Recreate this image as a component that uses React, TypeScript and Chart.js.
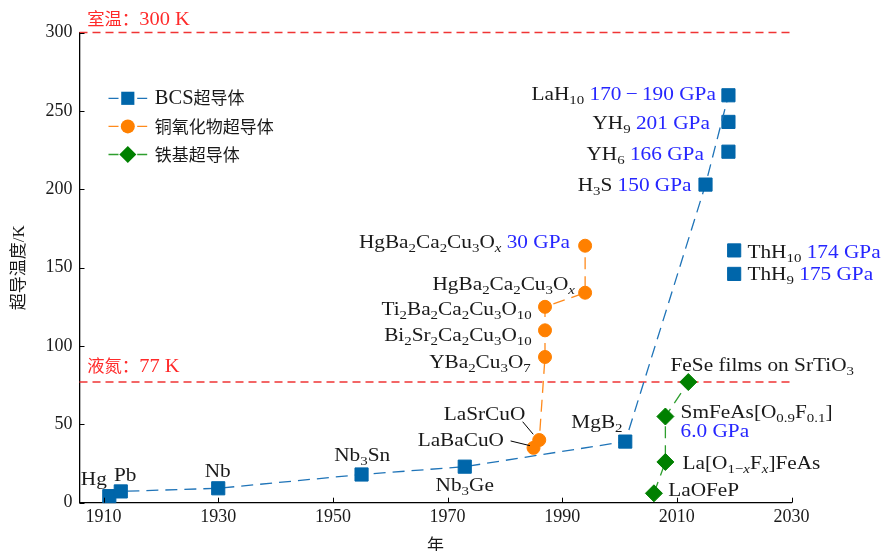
import React, { useEffect, useRef } from 'react';
import { Chart, registerables } from 'chart.js';

Chart.register(...registerables);

// ---------------- data ----------------
const xTicks = [1910, 1930, 1950, 1970, 1990, 2010, 2030];
const yTicks = [0, 50, 100, 150, 200, 250, 300];
const xMin = 1905.8;
const xMax = 2030;
const yMin = 0;
const yMax = 300;

const seriesLabels = ['BCS超导体', '铜氧化物超导体', '铁基超导体'];
const xTitle = '年';
const yTitle = '超导温度/K';

const bcsYears = [1911, 1913, 1930, 1955, 1973, 2001, 2015, 2019];
const bcsTc = [4.2, 7.2, 9.2, 18, 23, 39, 203, 260];
const bcsNames = ['Hg', 'Pb', 'Nb', 'Nb_{3}Sn', 'Nb_{3}Ge', 'MgB_{2}', 'H_{3}S', 'LaH_{10}'];
const bcsPressures = ['', '', '', '', '', '', '150 GPa', '170\u2009−\u2009190 GPa'];

const hydrideYears = [2019, 2019, 2020, 2020];
const hydrideTc = [243, 224, 161, 146];
const hydrideNames = ['YH_{9}', 'YH_{6}', 'ThH_{10}', 'ThH_{9}'];
const hydridePressures = ['201 GPa', '166 GPa', '174 GPa', '175 GPa'];

const cuprateYears = [1985, 1986, 1987, 1987, 1987, 1994, 1994];
const cuprateTc = [35, 40, 93, 110, 125, 134, 164];
const cuprateNames = [
  'LaBaCuO',
  'LaSrCuO',
  'YBa_{2}Cu_{3}O_{7}',
  'Bi_{2}Sr_{2}Ca_{2}Cu_{3}O_{10}',
  'Ti_{2}Ba_{2}Ca_{2}Cu_{3}O_{10}',
  'HgBa_{2}Ca_{2}Cu_{3}O_{x}',
  'HgBa_{2}Ca_{2}Cu_{3}O_{x}',
];
const cupratePressures = ['', '', '', '', '', '', '30 GPa'];

const ironYears = [2006, 2008, 2008, 2012];
const ironTc = [6, 26, 55, 77];
const ironNames = ['LaOFeP', 'La[O_{1−x}F_{x}]FeAs', 'SmFeAs[O_{0.9}F_{0.1}]', 'FeSe films on SrTiO_{3}'];
const ironPressures = ['', '', '6.0 GPa', ''];

const refLevels = [300, 77];
const refLabels = ['室温：300 K', '液氮：77 K'];

// ---------------- style / layout (pixels) ----------------
const FONT = '"Liberation Serif", "Noto Sans CJK SC", serif';
const CJK_FONT = '"Liberation Serif", "Noto Sans CJK SC", sans-serif';
const BLUE = '#0066aa';
const BLUE_LINE = '#1f74b8';
const ORANGE = '#ff8000';
const ORANGE_LINE = '#ff8a1c';
const GREEN = '#008000';
const GREEN_LINE = '#2e9e2e';
const RED = '#f03434';
const TEXT_BLUE = '#2626ff';
const TEXT_RED = '#ff2a2a';
const TEXT = '#1a1a1a';

type Place = [string, number, number];
const bcsPlace: Place[] = [
  ['center', -15.5, -17],
  ['center', 4.5, -17],
  ['center', -0.5, -17.6],
  ['center', 0.6, -19.5],
  ['center', 0, 18.3],
  ['right', -2.7, -20],
  ['right', -14, 0],
  ['right', -12.6, -1.3],
];
const hydridePlace: Place[] = [
  ['right', -18.6, 0.8],
  ['right', -24.6, 1.6],
  ['left', 13.3, 1.3],
  ['left', 13.3, 0],
];
const cupratePlace: Place[] = [
  ['right', -29.6, -8],
  ['right', -14, -26.7],
  ['right', -14.3, 4.7],
  ['right', -13.3, 4.7],
  ['right', -13.3, 1.5],
  ['right', -10.2, -9.4],
  ['right', -15.2, -4],
];
const cuprateLeaders: (number[] | null)[] = [
  [-22.9, -6.9, -3.6, -2.2],
  [-16.6, -18.3, -6, -5.7],
  null, null, null, null, null,
];
const ironPlace: Place[] = [
  ['left', 14.3, -3.3],
  ['left', 17.2, 0.3],
  ['left', 15.2, -4.8],
  ['left', -17.8, -17],
];
const pressureBelow = [false, false, true, false];
const refPlace: [number, number][] = [
  [7.7, -13],
  [7.7, -16],
];

const ANN_FS = 19;
const ANN_SX = 1.12;

// ---------------- rich text ----------------
type Seg = { t: string; sub: boolean; color: string; italic?: boolean; size?: number };

function parseRich(s: string, color: string): Seg[] {
  const segs: Seg[] = [];
  let i = 0;
  while (i < s.length) {
    if (s[i] === '_' && s[i + 1] === '{') {
      const j = s.indexOf('}', i);
      const inner = s.slice(i + 2, j);
      let buf = '';
      for (const ch of inner) {
        if (ch === 'x') {
          if (buf) segs.push({ t: buf, sub: true, color });
          buf = '';
          segs.push({ t: 'x', sub: true, color, italic: true });
        } else buf += ch;
      }
      if (buf) segs.push({ t: buf, sub: true, color });
      i = j + 1;
    } else {
      let j = s.indexOf('_{', i);
      if (j < 0) j = s.length;
      segs.push({ t: s.slice(i, j), sub: false, color });
      i = j;
    }
  }
  return segs;
}

// split mixed CJK / Latin text into runs of different sizes
function mixedSegs(s: string, color: string, cjkSize: number, latinSize: number): Seg[] {
  const segs: Seg[] = [];
  const isCjk = (c: string) => /[\u3000-\u9fff\uff00-\uffef]/.test(c);
  let buf = '';
  let cur: boolean | null = null;
  for (const ch of s) {
    const k = isCjk(ch);
    if (cur !== null && k !== cur) {
      segs.push({ t: buf, sub: false, color, size: cur ? cjkSize : latinSize });
      buf = '';
    }
    cur = k;
    buf += ch;
  }
  if (buf) segs.push({ t: buf, sub: false, color, size: cur ? cjkSize : latinSize });
  return segs;
}

function fontStr(size: number, italic?: boolean) {
  return `${italic ? 'italic ' : ''}${size}px ${FONT}`;
}

function drawSegs(ctx: CanvasRenderingContext2D, segs: Seg[], x: number, yc: number, align: string, fs: number, sx: number) {
  const subFs = fs * 0.7;
  const sizeOf = (s: Seg) => (s.size ? s.size : s.sub ? subFs : fs);
  const widths = segs.map((s) => {
    ctx.font = fontStr(sizeOf(s), s.italic);
    return ctx.measureText(s.t).width;
  });
  const w = widths.reduce((a, b) => a + b, 0) * sx;
  const x0 = align === 'left' ? x : align === 'right' ? x - w : x - w / 2;
  ctx.save();
  ctx.textAlign = 'left';
  ctx.textBaseline = 'alphabetic';
  ctx.translate(x0, yc + fs * 0.33);
  ctx.scale(sx, 1);
  let cx = 0;
  segs.forEach((s, i) => {
    ctx.font = fontStr(sizeOf(s), s.italic);
    ctx.fillStyle = s.color;
    ctx.fillText(s.t, cx, s.sub ? fs * 0.22 : 0);
    cx += widths[i];
  });
  ctx.restore();
}

function labelSegs(name: string, pressure: string) {
  const segs = parseRich(name, TEXT);
  if (pressure) segs.push(...parseRich(' ' + pressure, TEXT_BLUE));
  return segs;
}

// ---------------- plugins ----------------
const annotationPlugin = {
  id: 'annotations',
  afterDatasetsDraw(chart: any) {
    const ctx: CanvasRenderingContext2D = chart.ctx;
    const xs = chart.scales.x;
    const ys = chart.scales.y;
    const P = (x: number, y: number) => [xs.getPixelForValue(x), ys.getPixelForValue(y)];

    const group = (years: number[], tcs: number[], names: string[], pres: string[], place: Place[], below?: boolean[]) => {
      names.forEach((n, i) => {
        const [px, py] = P(years[i], tcs[i]);
        const [al, dx, dy] = place[i];
        if (below && below[i]) {
          drawSegs(ctx, labelSegs(n, ''), px + dx, py + dy, al, ANN_FS, ANN_SX);
          drawSegs(ctx, parseRich(pres[i], TEXT_BLUE), px + dx, py + dy + 19.3, al, ANN_FS, ANN_SX);
        } else {
          drawSegs(ctx, labelSegs(n, pres[i]), px + dx, py + dy, al, ANN_FS, ANN_SX);
        }
      });
    };
    group(bcsYears, bcsTc, bcsNames, bcsPressures, bcsPlace);
    group(hydrideYears, hydrideTc, hydrideNames, hydridePressures, hydridePlace);
    group(cuprateYears, cuprateTc, cuprateNames, cupratePressures, cupratePlace);
    group(ironYears, ironTc, ironNames, ironPressures, ironPlace, pressureBelow);

    // leader lines
    ctx.save();
    ctx.strokeStyle = '#000';
    ctx.lineWidth = 1;
    cuprateLeaders.forEach((l, i) => {
      if (!l) return;
      const [px, py] = P(cuprateYears[i], cuprateTc[i]);
      ctx.beginPath();
      ctx.moveTo(px + l[0], py + l[1]);
      ctx.lineTo(px + l[2], py + l[3]);
      ctx.stroke();
    });
    ctx.restore();

    // reference level labels
    refLevels.forEach((lv, i) => {
      const [px, py] = P(xMin, lv);
      drawSegs(ctx, mixedSegs(refLabels[i], TEXT_RED, 16.5, 19.5), px + refPlace[i][0], py + refPlace[i][1], 'left', 17, 1.05);
    });
  },
};

const ticksPlugin = {
  id: 'inwardTicks',
  afterDraw(chart: any) {
    const ctx: CanvasRenderingContext2D = chart.ctx;
    const xs = chart.scales.x;
    const ys = chart.scales.y;
    const a = chart.chartArea;
    ctx.save();
    ctx.strokeStyle = '#000';
    ctx.lineWidth = 1;
    ctx.beginPath();
    xs.ticks.forEach((t: any) => {
      const px = Math.round(xs.getPixelForValue(t.value)) + 0.5;
      ctx.moveTo(px, a.bottom);
      ctx.lineTo(px, a.bottom - 5);
    });
    ys.ticks.forEach((t: any) => {
      const py = Math.round(ys.getPixelForValue(t.value)) + 0.5;
      ctx.moveTo(a.left, py);
      ctx.lineTo(a.left + 5, py);
    });
    ctx.stroke();
    ctx.restore();
  },
};

const legendPlugin = {
  id: 'insideLegend',
  afterDraw(chart: any) {
    const ctx: CanvasRenderingContext2D = chart.ctx;
    const a = chart.chartArea;
    const x0 = a.left + 29;
    const y0 = a.top + 65.7;
    const ds = chart.data.datasets.filter((d: any) => d.label);
    ds.forEach((d: any, i: number) => {
      const y = y0 + i * 28.1;
      ctx.save();
      ctx.strokeStyle = d.borderColor;
      ctx.lineWidth = d.borderWidth;
      ctx.beginPath();
      ctx.moveTo(x0, y);
      ctx.lineTo(x0 + 10, y);
      ctx.moveTo(x0 + 28.7, y);
      ctx.lineTo(x0 + 38.7, y);
      ctx.stroke();
      const cx = x0 + 19.3;
      ctx.fillStyle = d.pointBackgroundColor;
      ctx.beginPath();
      const r = d.pointRadius;
      if (d.pointStyle === 'rect') {
        const s = r * Math.SQRT1_2;
        ctx.rect(cx - s, y - s, 2 * s, 2 * s);
      } else if (d.pointStyle === 'rectRot') {
        ctx.moveTo(cx - r, y);
        ctx.lineTo(cx, y - r);
        ctx.lineTo(cx + r, y);
        ctx.lineTo(cx, y + r);
        ctx.closePath();
      } else {
        ctx.arc(cx, y, r + 0.5, 0, Math.PI * 2);
      }
      ctx.fill();
      ctx.restore();
      drawSegs(ctx, mixedSegs(d.label, TEXT, 17, 20.5), x0 + 46.3, y + 0.5, 'left', 17, 1);
    });
  },
};

// ---------------- component ----------------
const pts = (xs: number[], ys: number[]) => xs.map((x, i) => ({ x, y: ys[i] }));

export default function App() {
  const ref = useRef<HTMLCanvasElement | null>(null);

  useEffect(() => {
    if (!ref.current) return;
    const common = { clip: false, fill: false, tension: 0, pointBorderWidth: 1 };
    const chart = new Chart(ref.current, {
      type: 'line',
      data: {
        datasets: [
          {
            ...common,
            label: seriesLabels[0],
            data: pts(bcsYears, bcsTc),
            borderColor: BLUE_LINE,
            borderWidth: 1.3,
            borderDash: [12, 7],
            pointStyle: 'rect',
            pointRadius: 9.3,
            pointBackgroundColor: BLUE,
            pointBorderColor: BLUE,
          },
          {
            ...common,
            label: seriesLabels[1],
            data: pts(cuprateYears, cuprateTc),
            borderColor: ORANGE_LINE,
            borderWidth: 1.3,
            borderDash: [12, 7],
            pointStyle: 'circle',
            pointRadius: 6.5,
            pointBackgroundColor: ORANGE,
            pointBorderColor: ORANGE,
          },
          {
            ...common,
            label: seriesLabels[2],
            data: pts(ironYears, ironTc),
            borderColor: GREEN_LINE,
            borderWidth: 1.3,
            borderDash: [12, 7],
            pointStyle: 'rectRot',
            pointRadius: 8.5,
            pointBackgroundColor: GREEN,
            pointBorderColor: GREEN,
          },
          {
            ...common,
            label: '',
            data: pts(hydrideYears, hydrideTc),
            showLine: false,
            borderColor: BLUE,
            pointStyle: 'rect',
            pointRadius: 9.3,
            pointBackgroundColor: BLUE,
            pointBorderColor: BLUE,
          },
          ...refLevels.map((lv) => ({
            ...common,
            label: '',
            data: [
              { x: xMin, y: lv },
              { x: xMax, y: lv },
            ],
            borderColor: RED,
            borderWidth: 1.5,
            borderDash: [8, 5],
            pointRadius: 0,
          })),
        ],
      } as any,
      options: {
        responsive: false,
        devicePixelRatio: 1,
        animation: false,
        events: [],
        layout: { padding: { left: 0, top: 32.6, right: 90.5, bottom: 0 } },
        plugins: { legend: { display: false }, tooltip: { enabled: false } },
        scales: {
          x: {
            type: 'linear',
            min: xMin,
            max: xMax,
            afterBuildTicks: (s: any) => {
              s.ticks = xTicks.map((v) => ({ value: v }));
            },
            afterFit: (s: any) => {
              s.height = 570 - 502.7;
            },
            grid: { display: false, drawTicks: false, tickLength: 0 },
            border: { display: true, color: '#000', width: 1.3 },
            ticks: {
              padding: 4,
              maxRotation: 0,
              autoSkip: false,
              color: TEXT,
              font: { family: FONT, size: 18 },
              callback: (v: any) => String(v),
            },
            title: {
              display: true,
              text: xTitle,
              color: TEXT,
              font: { family: CJK_FONT, size: 17 },
              padding: { top: 0, bottom: 12.8 },
            },
          },
          y: {
            type: 'linear',
            min: yMin,
            max: yMax,
            afterBuildTicks: (s: any) => {
              s.ticks = yTicks.map((v) => ({ value: v }));
            },
            afterFit: (s: any) => {
              s.width = 79.5;
            },
            grid: { display: false, drawTicks: false, tickLength: 0 },
            border: { display: true, color: '#000', width: 1.3 },
            ticks: {
              padding: 7,
              autoSkip: false,
              color: TEXT,
              font: { family: FONT, size: 18 },
              callback: (v: any) => String(v),
            },
            title: {
              display: true,
              text: yTitle,
              color: TEXT,
              font: { family: CJK_FONT, size: 17 },
              padding: { top: 9, bottom: 0 },
            },
          },
        },
      } as any,
      plugins: [annotationPlugin, ticksPlugin, legendPlugin],
    });
    return () => chart.destroy();
  }, []);

  return (
    <div style={{ position: 'absolute', left: 0, top: 0, width: 882, height: 570, background: '#fff' }}>
      <canvas ref={ref} width={882} height={570} style={{ display: 'block' }} />
    </div>
  );
}
